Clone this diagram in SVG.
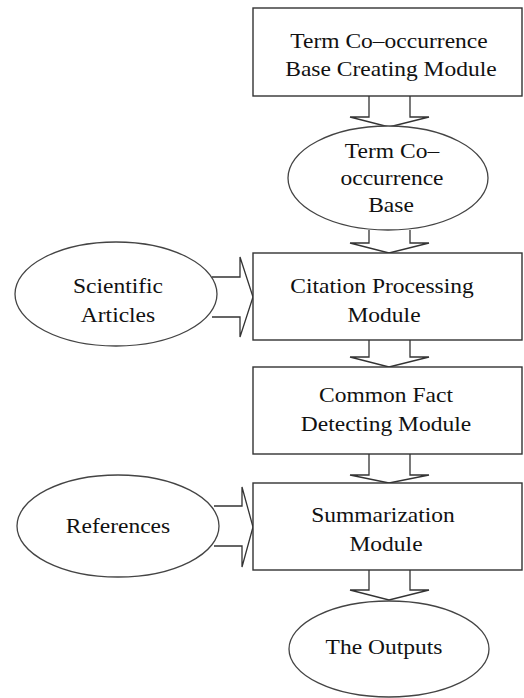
<svg xmlns="http://www.w3.org/2000/svg" width="524" height="698" viewBox="0 0 524 698">
<style>
.box{fill:#fff;stroke:#333;stroke-width:1.4}
.ell{fill:#fff;stroke:#444;stroke-width:1.3}
.arr{fill:#fff;stroke:#333;stroke-width:1.3;stroke-linejoin:miter}
text{font-family:"Liberation Serif","Times New Roman",serif;font-size:21px;fill:#111;text-anchor:middle}
</style>
<rect width="524" height="698" fill="#fff"/>
<g id="connectors">
<path class="arr" d="M369,96 V117 H350 L389,127 L429,117 H410 V96"/>
<path class="arr" d="M369,230 V243 H350 L389,253 L429,243 H410 V230"/>
<path class="arr" d="M369,340 V357 H350 L389,367 L429,357 H410 V340"/>
<path class="arr" d="M369,454 V475 H350 L389,483 L429,475 H410 V454"/>
<path class="arr" d="M369,570 V590 H350 L389,600 L429,590 H410 V570"/>
<path class="arr" d="M212,277 H240 V257 L253,297 L240,337 V317 H212"/>
<path class="arr" d="M214,506 H242 V487 L253,527 L242,567 V546 H214"/>
</g>
<g id="n1"><rect class="box" x="253" y="8" width="269" height="88"/>
<text transform="translate(389,0) scale(1.12,1)" y="48">Term Co–occurrence</text>
<text transform="translate(391,0) scale(1.12,1)" y="76">Base Creating Module</text></g>
<g id="n2"><ellipse class="ell" cx="388" cy="178" rx="100" ry="52"/>
<text transform="translate(392,0) scale(1.12,1)" y="158">Term Co–</text>
<text transform="translate(392,0) scale(1.12,1)" y="185">occurrence</text>
<text transform="translate(391,0) scale(1.12,1)" y="212">Base</text></g>
<g id="n3"><ellipse class="ell" cx="116" cy="294" rx="101" ry="52"/>
<text transform="translate(118,0) scale(1.12,1)" y="293">Scientific</text>
<text transform="translate(118,0) scale(1.12,1)" y="322">Articles</text></g>
<g id="n4"><rect class="box" x="253" y="253" width="269" height="87"/>
<text transform="translate(382,0) scale(1.12,1)" y="293">Citation Processing</text>
<text transform="translate(384,0) scale(1.12,1)" y="322">Module</text></g>
<g id="n5"><rect class="box" x="253" y="367" width="269" height="87"/>
<text transform="translate(386,0) scale(1.12,1)" y="402">Common Fact</text>
<text transform="translate(386,0) scale(1.12,1)" y="431">Detecting Module</text></g>
<g id="n6"><ellipse class="ell" cx="118" cy="526" rx="101" ry="51"/>
<text transform="translate(118,0) scale(1.12,1)" y="533">References</text></g>
<g id="n7"><rect class="box" x="253" y="483" width="269" height="87"/>
<text transform="translate(383,0) scale(1.12,1)" y="522">Summarization</text>
<text transform="translate(386,0) scale(1.12,1)" y="551">Module</text></g>
<g id="n8"><ellipse class="ell" cx="389" cy="649" rx="100" ry="48"/>
<text transform="translate(384,0) scale(1.12,1)" y="654">The Outputs</text></g>
</svg>
